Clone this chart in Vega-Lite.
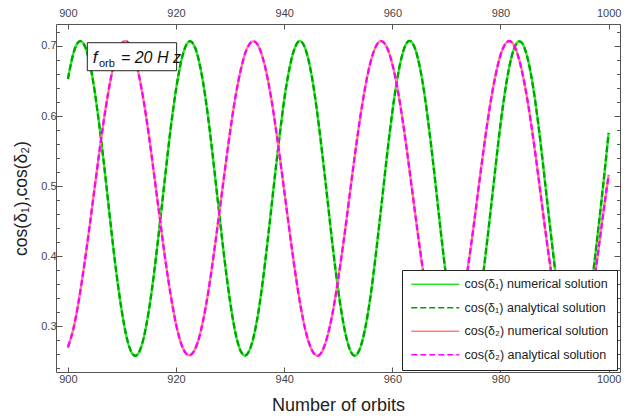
{
  "$schema": "https://vega.github.io/schema/vega-lite/v6.json",
  "width": 564,
  "height": 348,
  "autosize": "none",
  "padding": {"left": 56, "top": 24, "right": 14, "bottom": 46},
  "background": "white",
  "config": {
    "view": {"stroke": "#555555", "strokeWidth": 1},
    "font": "Liberation Sans",
    "axis": {"grid": false, "domain": false, "tickColor": "#555555", "labelColor": "#444444", "labelFont": "Liberation Sans", "labelFontSize": 11, "titleFont": "Liberation Sans", "titleFontWeight": "normal", "titleColor": "#222222"}
  },
  "data": {"values": [
    {"n":900,"g":0.653,"m":0.270},{"n":901,"g":0.689,"m":0.296},{"n":902,"g":0.706,"m":0.336},{"n":903,"g":0.702,"m":0.386},{"n":904,"g":0.677,"m":0.442},
    {"n":905,"g":0.633,"m":0.501},{"n":906,"g":0.575,"m":0.559},{"n":907,"g":0.509,"m":0.612},{"n":908,"g":0.439,"m":0.656},{"n":909,"g":0.374,"m":0.687},
    {"n":910,"g":0.320,"m":0.704},{"n":911,"g":0.280,"m":0.706},{"n":912,"g":0.260,"m":0.692},{"n":913,"g":0.261,"m":0.663},{"n":914,"g":0.283,"m":0.622},
    {"n":915,"g":0.324,"m":0.571},{"n":916,"g":0.380,"m":0.513},{"n":917,"g":0.446,"m":0.454},{"n":918,"g":0.515,"m":0.396},{"n":919,"g":0.582,"m":0.345},
    {"n":920,"g":0.638,"m":0.303},{"n":921,"g":0.680,"m":0.274},{"n":922,"g":0.703,"m":0.260},{"n":923,"g":0.705,"m":0.261},{"n":924,"g":0.686,"m":0.277},
    {"n":925,"g":0.648,"m":0.308},{"n":926,"g":0.594,"m":0.351},{"n":927,"g":0.529,"m":0.404},{"n":928,"g":0.460,"m":0.462},{"n":929,"g":0.393,"m":0.521},
    {"n":930,"g":0.335,"m":0.578},{"n":931,"g":0.290,"m":0.628},{"n":932,"g":0.264,"m":0.667},{"n":933,"g":0.259,"m":0.694},{"n":934,"g":0.275,"m":0.706},
    {"n":935,"g":0.310,"m":0.703},{"n":936,"g":0.362,"m":0.684},{"n":937,"g":0.426,"m":0.651},{"n":938,"g":0.495,"m":0.606},{"n":939,"g":0.562,"m":0.552},
    {"n":940,"g":0.623,"m":0.494},{"n":941,"g":0.669,"m":0.435},{"n":942,"g":0.698,"m":0.379},{"n":943,"g":0.707,"m":0.330},{"n":944,"g":0.694,"m":0.292},
    {"n":945,"g":0.661,"m":0.268},{"n":946,"g":0.611,"m":0.258},{"n":947,"g":0.549,"m":0.264},{"n":948,"g":0.481,"m":0.286},{"n":949,"g":0.412,"m":0.321},
    {"n":950,"g":0.351,"m":0.368},{"n":951,"g":0.302,"m":0.422},{"n":952,"g":0.270,"m":0.481},{"n":953,"g":0.258,"m":0.540},{"n":954,"g":0.268,"m":0.595},
    {"n":955,"g":0.298,"m":0.642},{"n":956,"g":0.345,"m":0.678},{"n":957,"g":0.406,"m":0.700},{"n":958,"g":0.474,"m":0.707},{"n":959,"g":0.543,"m":0.698},
    {"n":960,"g":0.606,"m":0.674},{"n":961,"g":0.657,"m":0.637},{"n":962,"g":0.692,"m":0.589},{"n":963,"g":0.707,"m":0.533},{"n":964,"g":0.700,"m":0.474},
    {"n":965,"g":0.673,"m":0.416},{"n":966,"g":0.628,"m":0.362},{"n":967,"g":0.569,"m":0.316},{"n":968,"g":0.502,"m":0.283},{"n":969,"g":0.432,"m":0.263},
    {"n":970,"g":0.368,"m":0.258},{"n":971,"g":0.315,"m":0.270},{"n":972,"g":0.277,"m":0.296},{"n":973,"g":0.259,"m":0.335},{"n":974,"g":0.263,"m":0.385},
    {"n":975,"g":0.287,"m":0.441},{"n":976,"g":0.329,"m":0.501},{"n":977,"g":0.387,"m":0.559},{"n":978,"g":0.453,"m":0.612},{"n":979,"g":0.522,"m":0.655},
    {"n":980,"g":0.588,"m":0.687},{"n":981,"g":0.643,"m":0.704},{"n":982,"g":0.683,"m":0.706},{"n":983,"g":0.704,"m":0.692},{"n":984,"g":0.704,"m":0.663},
    {"n":985,"g":0.683,"m":0.622},{"n":986,"g":0.643,"m":0.571},{"n":987,"g":0.588,"m":0.514},{"n":988,"g":0.522,"m":0.454},{"n":989,"g":0.453,"m":0.397},
    {"n":990,"g":0.387,"m":0.346},{"n":991,"g":0.329,"m":0.304},{"n":992,"g":0.287,"m":0.274},{"n":993,"g":0.263,"m":0.260},{"n":994,"g":0.259,"m":0.260},
    {"n":995,"g":0.277,"m":0.277},{"n":996,"g":0.315,"m":0.308},{"n":997,"g":0.368,"m":0.351},{"n":998,"g":0.433,"m":0.403},{"n":999,"g":0.502,"m":0.461},
    {"n":1000,"g":0.576,"m":0.516}
  ]},
  "resolve": {"axis": {"x": "independent", "y": "independent"}},
  "layer": [
    {
      "mark": {"type": "line", "strokeWidth": 2.3, "interpolate": "natural"},
      "encoding": {
        "x": {"field": "n", "type": "quantitative", "scale": {"domain": [897.8, 1002.1], "nice": false, "zero": false},
              "axis": {"orient": "bottom", "values": [900, 920, 940, 960, 980, 1000], "format": "d", "tickSize": -5, "labelPadding": 6, "title": "Number of orbits", "titleFontSize": 18, "titlePadding": 12}},
        "y": {"field": "g", "type": "quantitative", "scale": {"domain": [0.2347, 0.7314], "nice": false, "zero": false},
              "axis": {"orient": "left", "values": [0.3, 0.4, 0.5, 0.6, 0.7], "format": ".1f", "tickSize": -6, "labelPadding": 6, "title": "cos(δ₁),cos(δ₂)", "titleFontSize": 17.5, "titlePadding": 10}},
        "color": {"datum": "cos(δ₁) numerical solution", "type": "nominal",
                  "scale": {"domain": ["cos(δ₁) numerical solution", "cos(δ₁) analytical solution", "cos(δ₂) numerical solution", "cos(δ₂) analytical solution"], "range": ["#22ee22", "#00a400", "#ff8080", "#ff00ff"]},
                  "legend": {"orient": "none", "legendX": 346, "legendY": 246, "fillColor": "white", "strokeColor": "#222222", "padding": 8, "rowPadding": 10.5, "labelFontSize": 12.5, "labelColor": "#222222", "labelFont": "Liberation Sans", "symbolType": "M-1,0H8.6", "symbolSize": 100, "symbolStrokeWidth": 1.6, "labelOffset": 42, "title": null}},
        "strokeDash": {"datum": "cos(δ₁) numerical solution", "type": "nominal",
                  "scale": {"domain": ["cos(δ₁) numerical solution", "cos(δ₁) analytical solution", "cos(δ₂) numerical solution", "cos(δ₂) analytical solution"], "range": [[1, 0], [6, 3], [1, 0], [6, 3]]},
                  "legend": {"orient": "none", "legendX": 346, "legendY": 246, "fillColor": "white", "strokeColor": "#222222", "padding": 8, "rowPadding": 10.5, "labelFontSize": 12.5, "labelColor": "#222222", "labelFont": "Liberation Sans", "symbolType": "M-1,0H8.6", "symbolSize": 100, "symbolStrokeWidth": 1.6, "labelOffset": 42, "title": null}}
      }
    },
    {
      "mark": {"type": "line", "strokeWidth": 2.3, "interpolate": "natural"},
      "encoding": {
        "x": {"field": "n", "type": "quantitative", "scale": {"domain": [897.8, 1002.1], "nice": false, "zero": false},
              "axis": {"orient": "top", "values": [900, 920, 940, 960, 980, 1000], "format": "d", "tickSize": -5, "labelPadding": 11, "title": null}},
        "y": {"field": "g", "type": "quantitative", "scale": {"domain": [0.2347, 0.7314], "nice": false, "zero": false},
              "axis": {"orient": "right", "values": [0.3, 0.4, 0.5, 0.6, 0.7], "tickSize": -6, "labels": false, "title": null}},
        "color": {"datum": "cos(δ₁) analytical solution", "type": "nominal"},
        "strokeDash": {"datum": "cos(δ₁) analytical solution", "type": "nominal"}
      }
    },
    {
      "mark": {"type": "line", "strokeWidth": 2.3, "interpolate": "natural"},
      "encoding": {
        "x": {"field": "n", "type": "quantitative", "scale": {"domain": [897.8, 1002.1], "nice": false, "zero": false}, "axis": null},
        "y": {"field": "m", "type": "quantitative", "scale": {"domain": [0.2347, 0.7314], "nice": false, "zero": false},
              "axis": {"orient": "left", "values": [0.24, 0.26, 0.28, 0.32, 0.34, 0.36, 0.38, 0.42, 0.44, 0.46, 0.48, 0.52, 0.54, 0.56, 0.58, 0.62, 0.64, 0.66, 0.68, 0.72], "tickSize": -3.5, "labels": false, "title": null}},
        "color": {"datum": "cos(δ₂) numerical solution", "type": "nominal"},
        "strokeDash": {"datum": "cos(δ₂) numerical solution", "type": "nominal"}
      }
    },
    {
      "mark": {"type": "line", "strokeWidth": 2.3, "interpolate": "natural"},
      "encoding": {
        "x": {"field": "n", "type": "quantitative", "scale": {"domain": [897.8, 1002.1], "nice": false, "zero": false}, "axis": null},
        "y": {"field": "m", "type": "quantitative", "scale": {"domain": [0.2347, 0.7314], "nice": false, "zero": false},
              "axis": {"orient": "right", "values": [0.24, 0.26, 0.28, 0.32, 0.34, 0.36, 0.38, 0.42, 0.44, 0.46, 0.48, 0.52, 0.54, 0.56, 0.58, 0.62, 0.64, 0.66, 0.68, 0.72], "tickSize": -3.5, "labels": false, "title": null}},
        "color": {"datum": "cos(δ₂) analytical solution", "type": "nominal"},
        "strokeDash": {"datum": "cos(δ₂) analytical solution", "type": "nominal"}
      }
    },
    {
      "data": {"values": [{"label": "box"}]},
      "mark": {"type": "rect", "fill": "white", "stroke": "#222222", "strokeWidth": 1},
      "encoding": {
        "x": {"datum": 903.59, "type": "quantitative", "axis": null},
        "x2": {"datum": 920.11},
        "y": {"datum": 0.7047, "type": "quantitative", "axis": null},
        "y2": {"datum": 0.6647}
      }
    },
    {
      "data": {"values": [{"label": "f"}]},
      "mark": {"type": "text", "font": "Liberation Sans", "fontSize": 17, "fontStyle": "italic", "fontWeight": "normal", "align": "left", "baseline": "alphabetic", "fill": "#111111"},
      "encoding": {
        "text": {"field": "label"},
        "x": {"datum": 904.6, "type": "quantitative", "axis": null},
        "y": {"datum": 0.6753, "type": "quantitative", "axis": null}
      }
    },
    {
      "data": {"values": [{"label": "orb"}]},
      "mark": {"type": "text", "font": "Liberation Sans", "fontSize": 11, "fontWeight": "normal", "align": "left", "baseline": "alphabetic", "fill": "#111111"},
      "encoding": {
        "text": {"field": "label"},
        "x": {"datum": 905.75, "type": "quantitative", "axis": null},
        "y": {"datum": 0.6705, "type": "quantitative", "axis": null}
      }
    },
    {
      "data": {"values": [{"label": "= 20 H z"}]},
      "mark": {"type": "text", "font": "Liberation Sans", "fontSize": 16, "fontStyle": "italic", "fontWeight": "normal", "align": "left", "baseline": "alphabetic", "fill": "#111111"},
      "encoding": {
        "text": {"field": "label"},
        "x": {"datum": 909.8, "type": "quantitative", "axis": null},
        "y": {"datum": 0.6753, "type": "quantitative", "axis": null}
      }
    }
  ]
}
